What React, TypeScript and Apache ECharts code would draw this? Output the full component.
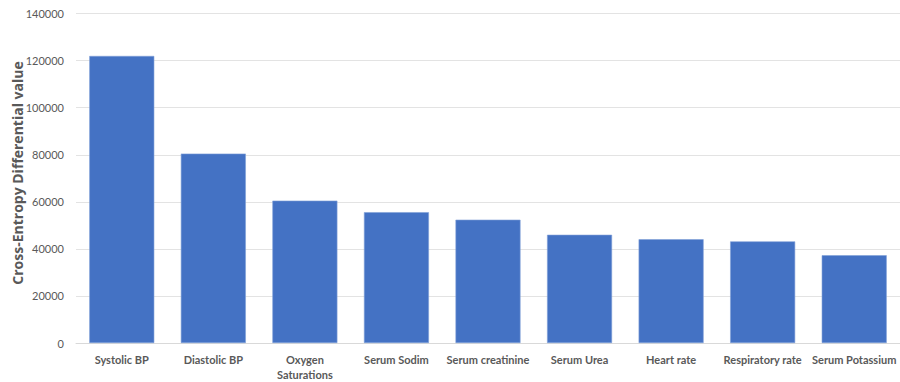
import React, { useEffect, useRef } from "react";
import * as echarts from "echarts";

const categories = [
  "Systolic BP",
  "Diastolic BP",
  "Oxygen\nSaturations",
  "Serum Sodim",
  "Serum creatinine",
  "Serum Urea",
  "Heart rate",
  "Respiratory rate",
  "Serum Potassium",
];
const values = [122000, 80500, 60500, 55600, 52400, 46000, 44100, 43200, 37300];
const yTicks = { min: 0, max: 140000, interval: 20000 };
const yTitle = "Cross-Entropy Differential value";

export default function App() {
  const ref = useRef<HTMLDivElement>(null);
  useEffect(() => {
    const chart = echarts.init(ref.current!, undefined, { renderer: "svg" });
    chart.setOption({
      animation: false,
      grid: { left: 76, right: -6, top: 13.6, bottom: 35.2, containLabel: false },
      xAxis: {
        type: "category",
        data: categories,
        axisLine: { lineStyle: { color: "#d9d9d9", width: 1 } },
        axisTick: { show: false },
        axisLabel: {
          color: "#595959",
          fontFamily: "Lato",
          fontWeight: "bold",
          fontSize: 11,
          margin: 9,
          interval: 0,
          lineHeight: 15,
        },
      },
      yAxis: {
        type: "value",
        min: yTicks.min,
        max: yTicks.max,
        interval: yTicks.interval,
        axisLine: { show: false },
        axisTick: { show: false },
        splitLine: { lineStyle: { color: "#e3e3e3", width: 1 } },
        axisLabel: {
          color: "#595959",
          fontFamily: "Lato",
          fontSize: 11,
          margin: 12,
          formatter: (v: number) => String(v),
        },
      },
      graphic: [
        {
          type: "text",
          x: 17,
          y: 173,
          rotation: Math.PI / 2,
          style: {
            text: yTitle,
            fill: "#595959",
            font: "bold 14px 'Open Sans'",
            textAlign: "center",
            textVerticalAlign: "middle",
          },
        },
      ],
      series: [
        {
          type: "bar",
          data: values,
          barWidth: "71%",
          itemStyle: { color: "#4472C4", borderColor: "#7f9fd6", borderWidth: 0.6 },
        },
      ],
    });
    return () => chart.dispose();
  }, []);
  return <div ref={ref} style={{ width: 900, height: 382, position: "absolute", left: 0, top: 0 }} />;
}
